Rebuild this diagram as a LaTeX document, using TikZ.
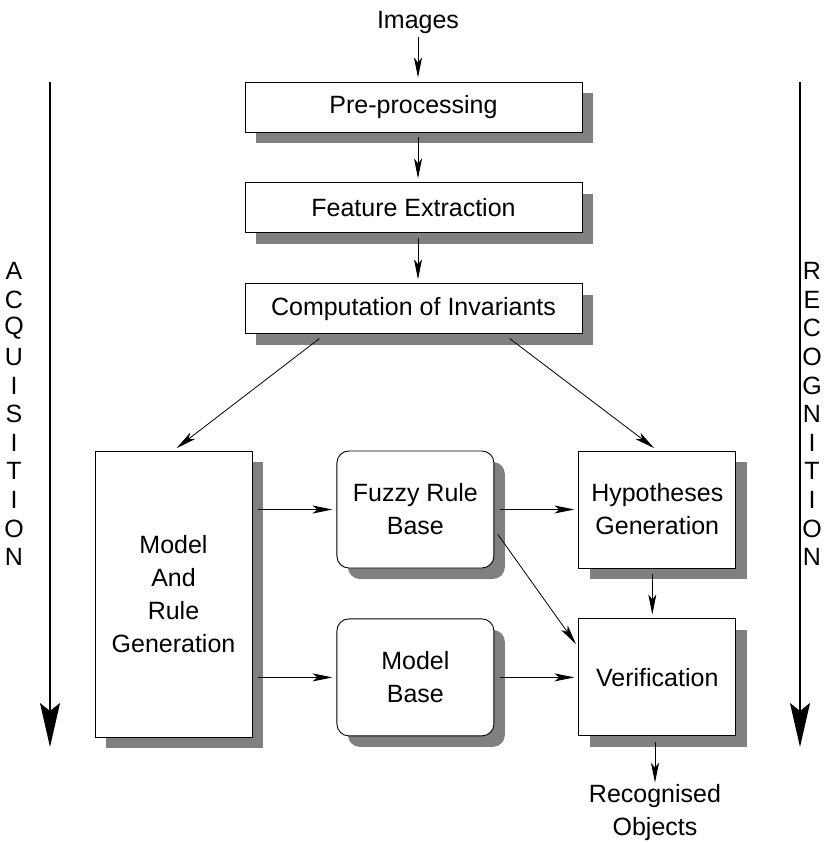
\documentclass[tikz,border=0pt]{standalone}
\usepackage{fontspec}
\setmainfont{Liberation Sans}
\usetikzlibrary{positioning,arrows.meta,shadows}

\begin{document}
\begin{tikzpicture}[x=1pt, y=-1pt,
node distance = 50pt and 84pt,
every node/.style={font=\fontsize{25}{33}\selectfont},
shade/.style={drop shadow={shadow xshift=11pt, shadow yshift=-11pt, fill=black!50, opacity=1}},
stage/.style={rectangle, draw=black, line width=0.9pt, fill=white, shade, minimum width=337pt, minimum height=50pt, inner sep=0pt},
block/.style={rectangle, draw=black, line width=0.9pt, fill=white, shade, align=center, minimum width=157pt, minimum height=117pt, inner sep=0pt},
store/.style={block, rounded corners=12pt},
arr/.style={-{Stealth[length=20pt,width=8pt,inset=5pt]}, line width=0.8pt, shorten >=4pt},
side/.style={-{Stealth[length=44pt,width=20pt,inset=8pt]}, line width=1.4pt}]

\useasboundingbox (0,0) rectangle (839,843);

\node (img) at (418,22) {Images};
\node[stage] (pre) at (413.5,107) {Pre-processing};
\node[stage] (feat) [below = of pre] {Feature Extraction};
\node[stage] (inv) [below = of feat] {Computation of Invariants};

\node[block, minimum height=286pt] (gen) at (173.5,594) {Model\\And\\Rule\\Generation};
\node[store] (fuzzy) [below right = 0pt and 84pt of gen.north east] {Fuzzy Rule\\Base};
\node[store] (model) [below = of fuzzy] {Model\\Base};
\node[block] (hyp) [right = of fuzzy] {Hypotheses\\Generation};
\node[block] (ver) [right = of model] {Verification};
\node[align=center, inner sep=1pt] (rec) at (655,813) {Recognised\\Objects};

% side arrows and their labels
\coordinate (acqtop) at (50,82);
\coordinate (acqend) at (50,747);
\coordinate (rectop) at (800,82);
\coordinate (recend) at (800,747);
\draw[side] (acqtop) -- (acqend);
\draw[side] (rectop) -- (recend);
\foreach \ch [count=\i from 0] in {A,C,Q,U,I,S,I,T,I,O,N}
  \node (acq\i) at (14, 271+28.6*\i) {\ch};
\foreach \ch [count=\i from 0] in {R,E,C,O,G,N,I,T,I,O,N}
  \node (rcg\i) at (812, 271+28.6*\i) {\ch};

\draw[arr] (img) -- (img |- pre.north);
\draw[arr, shorten <=5pt] (img |- pre.south) -- (img |- feat.north);
\draw[arr, shorten <=5pt] (img |- feat.south) -- (img |- inv.north);
\draw[arr, shorten <=7pt] ([xshift=-88.5pt]inv.south) -- (gen.north);
\draw[arr, shorten <=7pt] ([xshift=90.5pt]inv.south) -- (hyp.north);
\draw[arr, shorten <=6pt] (gen.east |- fuzzy.west) -- (fuzzy.west);
\draw[arr, shorten <=6pt] (gen.east |- model.west) -- (model.west);
\draw[arr, shorten <=6pt] (fuzzy.east) -- (hyp.west);
\draw[arr, shorten <=6pt] ([yshift=-20pt]fuzzy.east) -- ([yshift=30pt]ver.west);
\draw[arr, shorten <=6pt] (model.east) -- (ver.west);
\draw[arr, shorten <=6pt] ([xshift=-5pt]hyp.south) -- ([xshift=-5pt]ver.north);
\draw[arr, shorten <=6pt, shorten >=1pt] (rec |- ver.south) -- (rec.north);
\end{tikzpicture}
\end{document}
